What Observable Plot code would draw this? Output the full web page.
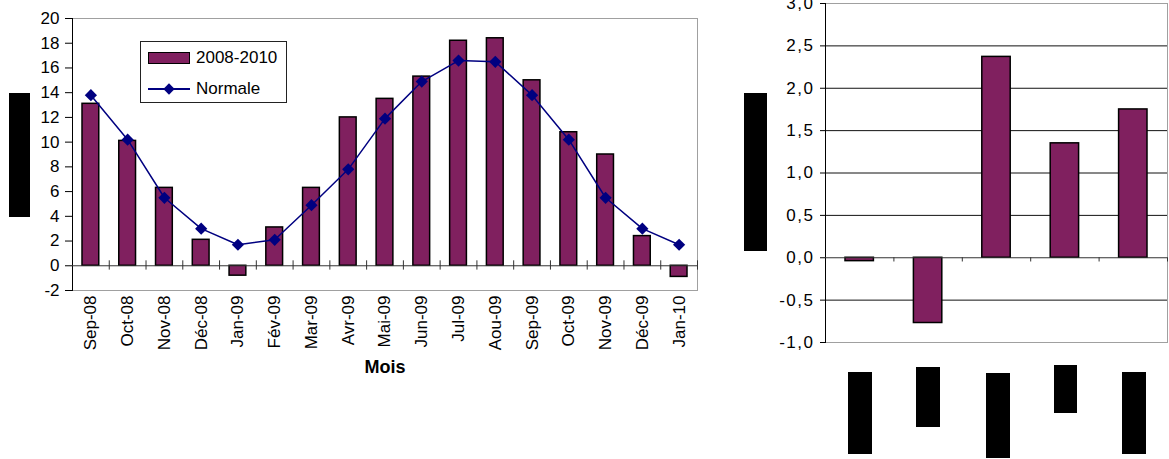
<!DOCTYPE html>
<html><head><meta charset="utf-8">
<script src="https://cdn.jsdelivr.net/npm/d3@7"></script>
<script src="https://cdn.jsdelivr.net/npm/@observablehq/plot@0.6"></script>
<style>
body{margin:0;background:#fff;font-family:"Liberation Sans",Arial,sans-serif;}
#root{position:relative;width:1169px;height:459px;overflow:hidden;background:#fff;}
.abs{position:absolute;}
.blk{position:absolute;background:#000;}
#left g[aria-label="x-axis label"] text{font-weight:bold;font-size:18px;}
#right g[aria-label="y-axis tick label"] text{letter-spacing:1.5px;}
</style></head><body><div id="root"></div>
<script>
// ---- Data ----
const months = ["Sep-08","Oct-08","Nov-08","Déc-08","Jan-09","Fév-09","Mar-09","Avr-09","Mai-09","Jun-09","Jul-09","Aou-09","Sep-09","Oct-09","Nov-09","Déc-09","Jan-10"];
const observed = [13.1,10.1,6.3,2.1,-0.8,3.1,6.3,12.0,13.5,15.3,18.2,18.4,15.0,10.8,9.0,2.4,-0.9];
const normale = [13.8,10.2,5.5,3.0,1.7,2.1,4.9,7.8,11.9,14.9,16.6,16.5,13.8,10.2,5.5,3.0,1.7];
const leftTicks = [-2,0,2,4,6,8,10,12,14,16,18,20];
const seriesNames = ["2008-2010","Normale"];
const xTitle = "Mois";

const groups = ["1","2","3","4","5"];
const anomalies = [-0.04,-0.77,2.37,1.35,1.75];
const rightTicks = [-1,-0.5,0,0.5,1,1.5,2,2.5,3];

const barColor = "#80205F";
const lineColor = "#000080";
const font = '"Liberation Sans",Arial,sans-serif';

const root = document.getElementById("root");

// ---- Left chart ----
const leftData = months.map((m,i)=>({month:m, obs:observed[i], norm:normale[i]}));
const LW = 720, LML = 72, LMR = 23;
const lbw = (LW - LML - LMR) / months.length;
const left = Plot.plot({
  width: LW, height: 380, marginLeft: LML, marginRight: LMR, marginTop: 18, marginBottom: 90,
  style: {fontFamily: font, fontSize: "17px", color: "#000", background: "transparent", overflow: "visible"},
  x: {domain: months, padding: 0, round: false, label: xTitle},
  y: {domain: [-2, 20], label: null},
  marks: [
    Plot.frame({stroke: "#a0a0a0"}),
    Plot.frame({anchor: "left", stroke: "#000"}),
    Plot.barY(leftData, {x: "month", y: "obs", fill: barColor, stroke: "#000", strokeWidth: 1.5, insetLeft: 10, insetRight: 10}),
    Plot.ruleY([0], {stroke: "#333"}),
    Plot.ruleX(months, {x: d => d, y1: 0.4, y2: -0.35, dx: lbw/2, stroke: "#333"}),
    Plot.line(leftData, {x: "month", y: "norm", stroke: lineColor, strokeWidth: 1.5}),
    Plot.dot(leftData, {x: "month", y: "norm", symbol: "diamond2", r: 5.5, fill: lineColor, stroke: "none"}),
    Plot.axisY({ticks: leftTicks, tickFormat: d => String(d), tickSize: 7, tickPadding: 6, fontSize: 17, label: null}),
    Plot.axisX({tickSize: 0, tickRotate: -90, tickPadding: 5, fontSize: 17, label: xTitle, labelAnchor: "center", labelOffset: 82})
  ]
});
left.id = "left";
left.style.position = "absolute"; left.style.left = "0px"; left.style.top = "0px";
root.appendChild(left);

// Legend
const leg = document.createElement("div");
leg.className = "abs";
leg.style.cssText = "left:140px;top:41px;width:145px;height:60px;border:1px solid #222;background:#fff;font-size:17px;";
leg.innerHTML =
  `<div class="abs" style="left:7px;top:10px;width:40px;height:10px;background:${barColor};border:1.5px solid #000"></div>
   <div class="abs" style="left:55px;top:6px;line-height:20px">${seriesNames[0]}</div>
   <div class="abs" style="left:7px;top:46px;width:42px;height:1.5px;background:${lineColor}"></div>
   <div class="abs" style="left:23.5px;top:42.5px;width:8px;height:8px;background:${lineColor};transform:rotate(45deg)"></div>
   <div class="abs" style="left:55px;top:37px;line-height:20px">${seriesNames[1]}</div>`;
root.appendChild(leg);

// ---- Right chart ----
const rightData = groups.map((g,i)=>({g, v: anomalies[i]}));
const RW = 439, RML = 95, RMR = 2;
const rbw = (RW - RML - RMR) / groups.length;
const fmt = d => d3.format(".1f")(d).replace(".", ",").replace("−", "-");
const right = Plot.plot({
  width: RW, height: 459, marginLeft: RML, marginRight: RMR, marginTop: 3, marginBottom: 117,
  style: {fontFamily: font, fontSize: "17px", color: "#000", background: "transparent", overflow: "visible"},
  x: {domain: groups, padding: 0, round: false, axis: null},
  y: {domain: [-1, 3], label: null},
  marks: [
    Plot.ruleY(rightTicks.filter(v => v > -1 && v < 3 && v !== 0), {stroke: "#111"}),
    Plot.frame({stroke: "#a0a0a0"}),
    Plot.frame({anchor: "left", stroke: "#000"}),
    Plot.barY(rightData, {x: "g", y: "v", fill: barColor, stroke: "#000", strokeWidth: 1.5, insetLeft: 20, insetRight: 20}),
    Plot.ruleY([0], {stroke: "#333"}),
    Plot.ruleX(groups, {x: d => d, y1: 0, y2: -0.05, dx: rbw/2, stroke: "#333"}),
    Plot.axisY({ticks: rightTicks, tickFormat: fmt, tickSize: 5, tickPadding: 6, fontSize: 17, label: null})
  ]
});
right.id = "right";
right.style.position = "absolute"; right.style.left = "730px"; right.style.top = "0px";
root.appendChild(right);

// Redacted (blacked-out) label blocks present in the reference
[[9,93,21,124],[744,93,23,158],[848,372,24,82],[916,367,24,60],[986,373,24,85],[1054,365,23,48],[1122,372,24,82]]
  .forEach(([x,y,w,h]) => {
    const b = document.createElement("div");
    b.className = "blk";
    b.style.cssText = `left:${x}px;top:${y}px;width:${w}px;height:${h}px;`;
    root.appendChild(b);
  });
</script></body></html>
